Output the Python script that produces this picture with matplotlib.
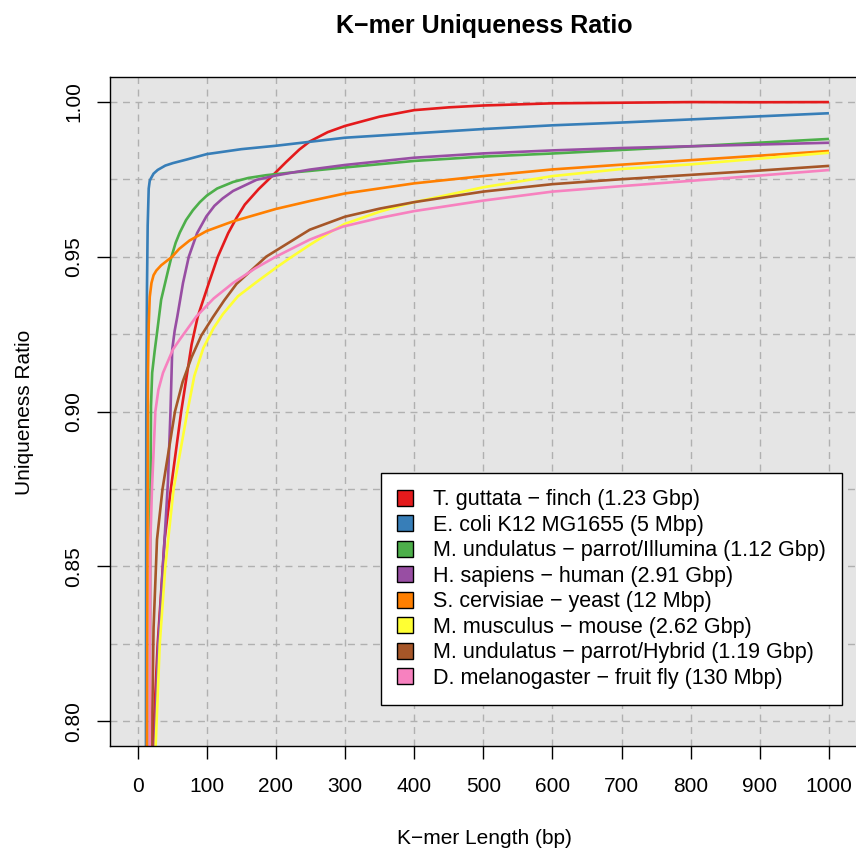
import numpy as np
import matplotlib
matplotlib.use("Agg")
import matplotlib.pyplot as plt
from matplotlib.patches import Patch
from matplotlib.ticker import MultipleLocator

plt.rcParams['font.family'] = ['Liberation Sans', 'DejaVu Sans']

# k-mer length (bp) vs fraction of unique k-mers, one pair of lists per genome
red_k = [21, 22, 29, 39, 48, 63, 78, 87, 103, 116, 131, 143, 155, 175, 193, 215, 234, 249, 275, 300,
         350, 400, 450, 500, 600, 700, 800, 900, 1000]
red_r = [0.78, 0.792, 0.825, 0.8587, 0.875, 0.90, 0.9216, 0.9307, 0.9415, 0.95, 0.9576, 0.9625, 0.9668,
         0.9718, 0.9757, 0.9806, 0.9846, 0.9872, 0.9902, 0.9922, 0.9952, 0.9973, 0.9982, 0.9988, 0.9995,
         0.9997, 0.9999, 0.99985, 0.9999]

blue_k = [11.5, 12, 12.5, 13.5, 14.5, 16, 17.5, 19, 23, 29, 40, 51, 70, 100, 150, 200, 250, 300, 400,
          500, 600, 700, 800, 900, 1000]
blue_r = [0.78, 0.792, 0.90, 0.94, 0.96, 0.972, 0.9745, 0.9752, 0.9768, 0.978, 0.9794, 0.9802, 0.9813,
          0.9831, 0.9847, 0.9858, 0.9871, 0.9884, 0.9898, 0.9912, 0.9924, 0.9933, 0.9943, 0.9953, 0.9963]

green_k = [16.5, 17.5, 18.3, 19.3, 21, 24.6, 28, 34, 44, 49, 55, 61, 70, 80, 90, 100, 115, 138, 160, 186,
           220, 250, 300, 400, 500, 600, 700, 800, 900, 1000]
green_r = [0.78, 0.792, 0.8587, 0.9017, 0.9125, 0.9195, 0.9254, 0.9361, 0.9455, 0.95, 0.9545, 0.9578,
           0.9618, 0.9650, 0.9676, 0.9697, 0.9720, 0.9741, 0.9754, 0.9763, 0.9771, 0.9777, 0.9788, 0.9809,
           0.9823, 0.9833, 0.98445, 0.9856, 0.9868, 0.9880]

purple_k = [23.5, 24.6, 29.4, 36.6, 43.8, 47.5, 50, 53.5, 57.4, 65.6, 74, 86, 99.4, 111, 123, 138, 172,
            200, 220, 249, 300, 400, 500, 600, 700, 800, 900, 1000]
purple_r = [0.78, 0.792, 0.8232, 0.8501, 0.8771, 0.90, 0.92, 0.926, 0.9307, 0.9415, 0.95, 0.9576, 0.963,
            0.9664, 0.9688, 0.9712, 0.9748, 0.9762, 0.9770, 0.9781, 0.9796, 0.98194, 0.98333, 0.9843,
            0.98507, 0.98564, 0.9862, 0.98677]

orange_k = [13, 13.5, 14.3, 15, 16, 17.5, 20, 23, 27, 34, 50, 60, 75, 100, 138, 200, 250, 300, 400, 500,
            600, 700, 800, 900, 1000]
orange_r = [0.78, 0.792, 0.86, 0.9135, 0.928, 0.937, 0.9415, 0.944, 0.9455, 0.9472, 0.95, 0.9525, 0.9552,
            0.9583, 0.9614, 0.9654, 0.968, 0.9704, 0.97366, 0.97602, 0.97816, 0.9797, 0.98115, 0.98261,
            0.98409]

yellow_k = [25, 26, 32, 40, 52, 72, 82, 95, 110, 123.5, 145, 172, 200, 220, 249, 282, 300, 350, 393, 400,
            500, 600, 700, 800, 900, 1000]
yellow_r = [0.78, 0.792, 0.825, 0.85, 0.875, 0.90, 0.9115, 0.9205, 0.927, 0.9315, 0.9372, 0.9418, 0.9464,
            0.9495, 0.9538, 0.9584, 0.9606, 0.9645, 0.9672, 0.9676, 0.9724, 0.9760, 0.9783, 0.97978,
            0.98167, 0.98355]

brown_k = [19, 20.5, 23, 28, 36, 54, 65, 78, 92, 109, 125, 143, 186, 249, 300, 350, 400, 500, 600, 700,
           800, 900, 1000]
brown_r = [0.78, 0.792, 0.83, 0.8587, 0.875, 0.90, 0.9095, 0.9175, 0.9245, 0.9305, 0.9358, 0.9412, 0.9500,
           0.9587, 0.9629, 0.9655, 0.9676, 0.9710, 0.9734, 0.9750, 0.9764, 0.9778, 0.9793]

pink_k = [17, 17.5, 18.5, 20.7, 25.6, 30, 36.7, 51, 60.8, 85, 110, 138, 170, 200, 249, 297, 350, 400,
          500, 600, 700, 800, 900, 1000]
pink_r = [0.78, 0.792, 0.8587, 0.875, 0.90, 0.907, 0.9125, 0.92, 0.9232, 0.9307, 0.9365, 0.9415, 0.9462,
          0.95, 0.9555, 0.9597, 0.9625, 0.9647, 0.9681, 0.9710, 0.97276, 0.97447, 0.97619, 0.97796]

labels = ["T. guttata \u2212 finch (1.23 Gbp)",
          "E. coli K12 MG1655 (5 Mbp)",
          "M. undulatus \u2212 parrot/Illumina (1.12 Gbp)",
          "H. sapiens \u2212 human (2.91 Gbp)",
          "S. cervisiae \u2212 yeast (12 Mbp)",
          "M. musculus \u2212 mouse (2.62 Gbp)",
          "M. undulatus \u2212 parrot/Hybrid (1.19 Gbp)",
          "D. melanogaster \u2212 fruit fly (130 Mbp)"]
colors = ["#E41A1C", "#377EB8", "#4DAF4A", "#984EA3", "#FF7F00", "#FFFF33", "#A65628", "#F781BF"]

series = [(red_k, red_r), (blue_k, blue_r), (green_k, green_r), (purple_k, purple_r),
          (orange_k, orange_r), (yellow_k, yellow_r), (brown_k, brown_r), (pink_k, pink_r)]

fig = plt.figure(figsize=(8.56, 8.5), dpi=100)
ax = fig.add_axes([110/856, 1-746/850, 746.6/856, 669/850])
ax.set_facecolor("#e5e5e5")

for (k, r), c in zip(series, colors):
    ax.plot(k, r, color=c, lw=1.9, solid_capstyle='butt', solid_joinstyle='round')

ax.set_xlim(-40, 1040)
ax.set_ylim(0.792, 1.008)
ax.set_xticks(np.arange(0, 1001, 100))
ax.set_yticks([0.80, 0.85, 0.90, 0.95, 1.00])
ax.set_yticklabels(["0.80", "0.85", "0.90", "0.95", "1.00"])
ax.yaxis.set_minor_locator(MultipleLocator(0.025))
ax.set_axisbelow(True)
ax.grid(True, which='both', color="#b0b0b0", lw=1.0, linestyle=(0, (5, 4)))

ax.tick_params(which='major', direction='out', length=9.5, width=1, color='black', labelsize=15)
ax.tick_params(axis='x', pad=13)
ax.tick_params(axis='y', pad=10)
ax.tick_params(which='minor', length=0)
for lbl in ax.get_yticklabels():
    lbl.set_rotation(90)
    lbl.set_va('center')
for sp in ax.spines.values():
    sp.set_color('black')
    sp.set_linewidth(1.0)

fig.text(484/856, 1-26/850, "K\u2212mer Uniqueness Ratio", ha='center', va='center',
         fontsize=18, fontweight='bold')
fig.text(484/856, 1-838/850, "K\u2212mer Length (bp)", ha='center', va='center', fontsize=15)
fig.text(25/856, 1-412/850, "Uniqueness Ratio", ha='center', va='center', rotation=90, fontsize=15)

handles = [Patch(facecolor=c, edgecolor='black', lw=1) for c in colors]
leg = ax.legend(handles, labels, loc='upper left', bbox_to_anchor=(381/856, 1-473/850),
                bbox_transform=fig.transFigure, fontsize=15.5, frameon=True, fancybox=False,
                framealpha=1, edgecolor='black', borderaxespad=0, borderpad=0.75,
                labelspacing=0.21, handlelength=0.75, handleheight=0.75, handletextpad=0.9)
leg.get_frame().set_linewidth(1.0)

fig.savefig("out.png", dpi=100)
